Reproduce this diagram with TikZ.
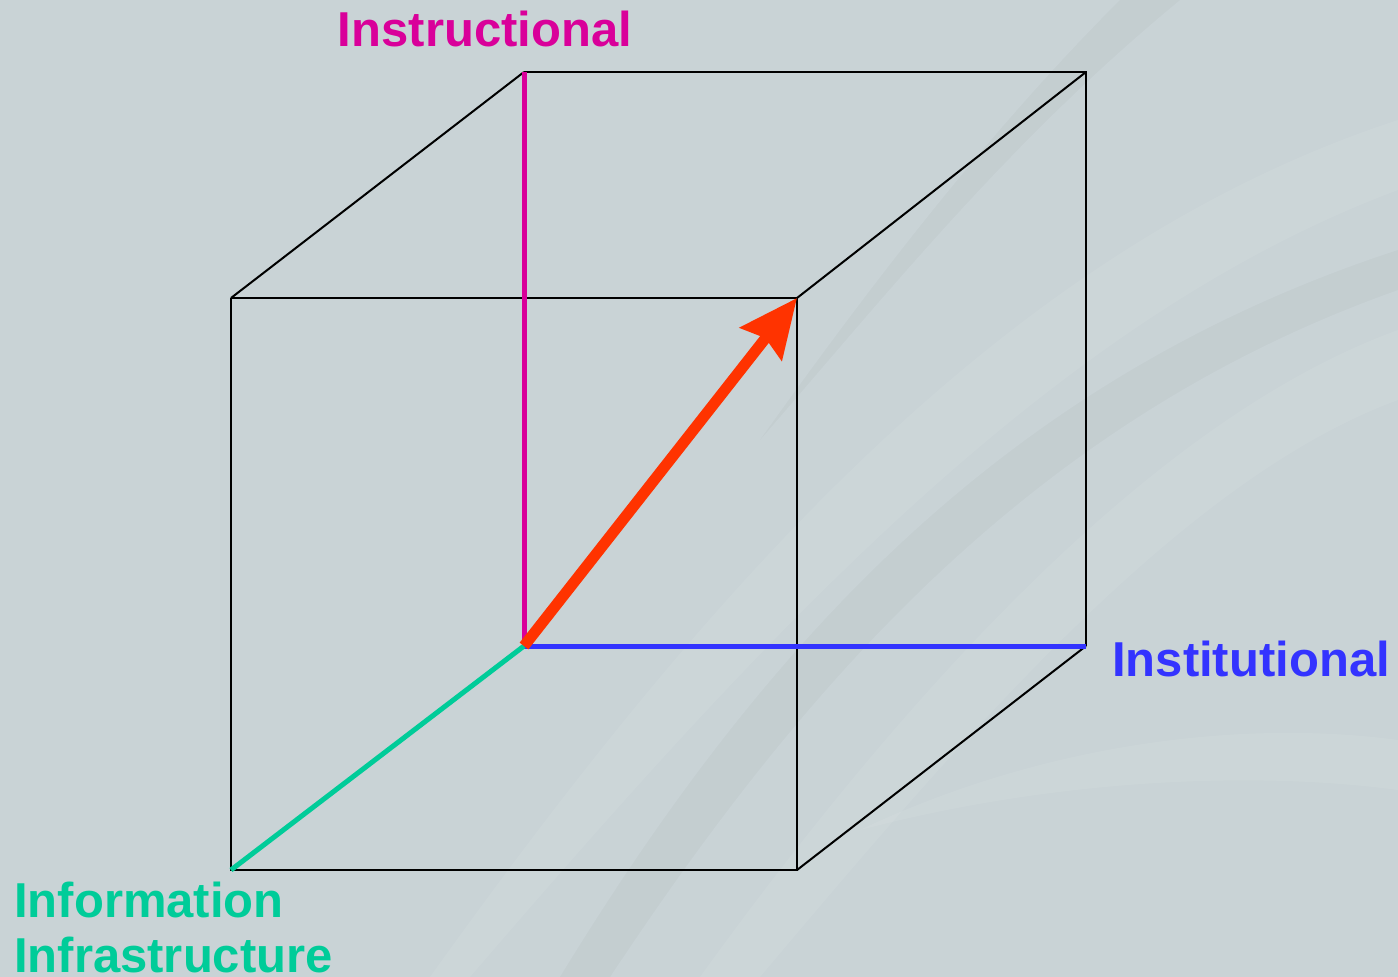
\documentclass[tikz,border=0pt]{standalone}
\usepackage{fontspec}
\setmainfont{Liberation Sans}
\usetikzlibrary{arrows.meta}
\definecolor{bg}{HTML}{C9D3D6}
\definecolor{magentaax}{HTML}{D9009A}
\definecolor{blueax}{HTML}{3333FF}
\definecolor{greenax}{HTML}{00CC99}
\definecolor{redax}{HTML}{FF3300}
\tikzset{
  edge/.style={draw=black, line width=2pt},
  axis/.style={line width=5pt},
  lbl/.style={font=\fontsize{49pt}{57pt}\selectfont\bfseries, inner sep=0pt},
  swoosh/.style={fill=white, opacity=0.07},
  swooshdark/.style={fill=black, opacity=0.025}
}
\begin{document}
\begin{tikzpicture}[x=1pt,y=-1pt]
\fill[bg] (0,0) rectangle (1398,977);
\useasboundingbox (0,0) rectangle (1398,977);
% background swooshes (tapered, subtle)
\fill[swoosh] (430,977) .. controls (700,600) and (1000,250) .. (1398,120) -- (1398,190) .. controls (1050,320) and (760,640) .. (470,977) -- cycle;
\fill[swoosh] (700,977) .. controls (900,700) and (1150,420) .. (1398,330) -- (1398,400) .. controls (1180,480) and (960,740) .. (760,977) -- cycle;
\fill[swoosh] (860,830) .. controls (1050,740) and (1250,720) .. (1398,740) -- (1398,790) .. controls (1250,770) and (1050,780) .. (860,830) -- cycle;
\fill[swooshdark] (560,977) .. controls (760,650) and (1000,380) .. (1398,250) -- (1398,290) .. controls (1030,420) and (800,690) .. (610,977) -- cycle;
\fill[swooshdark] (1120,0) .. controls (980,140) and (860,300) .. (760,440) .. controls (890,290) and (1010,140) .. (1180,0) -- cycle;
% cube corners
\coordinate (btl) at (524,72);
\coordinate (btr) at (1086,72);
\coordinate (bbr) at (1086,646);
\coordinate (o)   at (524,646);
\coordinate (ftl) at (231,298);
\coordinate (ftr) at (797,298);
\coordinate (fbr) at (797,870);
\coordinate (fbl) at (231,870);
% black edges
\draw[edge] (btl) -- (btr) -- (bbr);
\draw[edge] (ftl) -- (ftr) -- (fbr) -- (fbl) -- (ftl);
\draw[edge] (ftl) -- (btl);
\draw[edge] (ftr) -- (btr);
\draw[edge] (fbr) -- (bbr);
% axes
\draw[axis, magentaax] (o) -- (btl);
\draw[axis, blueax] (o) -- (bbr);
\draw[axis, greenax] (o) -- (fbl);
\draw[line width=11pt, redax, -{Stealth[length=58pt,width=52pt,inset=7pt]}] (o) -- (ftr);
% labels
\node[lbl, text=magentaax, anchor=base] (linstr) at (485,46) {Instructional};
\node[lbl, text=blueax, anchor=base west] (linst) at (1112,676) {Institutional};
\node[lbl, text=greenax, anchor=base west] (linf1) at (14,917) {Information};
\node[lbl, text=greenax, anchor=base west] (linf2) at (14,972) {Infrastructure};
\end{tikzpicture}
\end{document}
